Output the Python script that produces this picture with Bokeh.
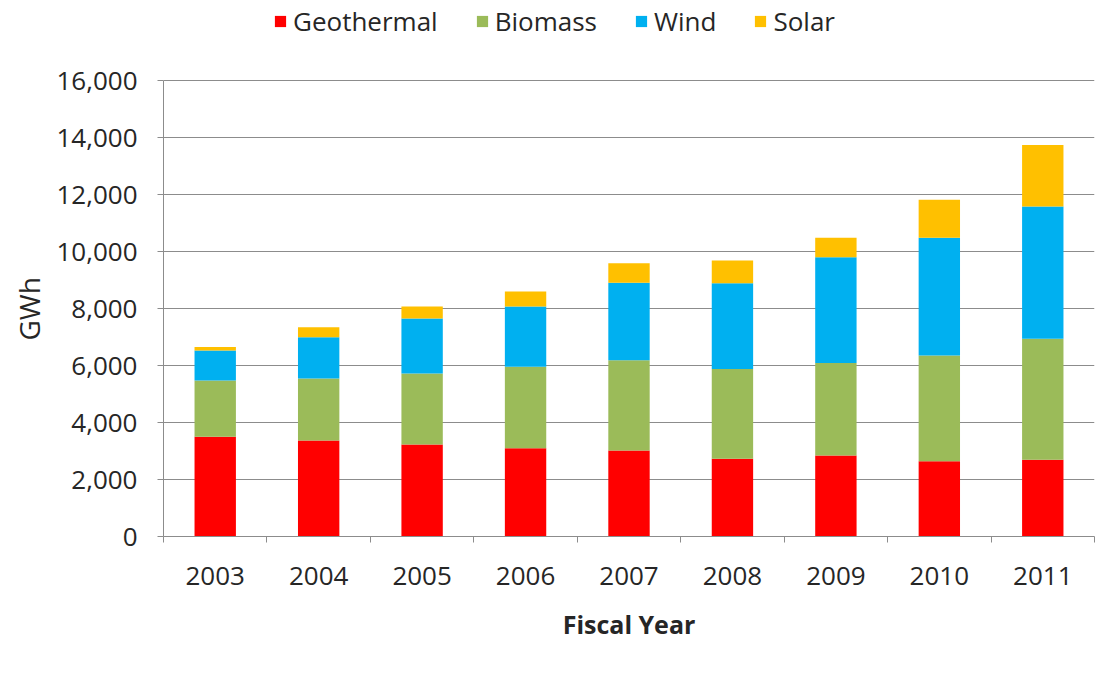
from bokeh.plotting import figure
from bokeh.models import (Range1d, FixedTicker, NumeralTickFormatter, Legend,
                          ColumnDataSource, Title)
from bokeh.embed import file_html
from bokeh.resources import INLINE

# Renewable electricity generation by source (GWh), fiscal years 2003-2011
years = [2003, 2004, 2005, 2006, 2007, 2008, 2009, 2010, 2011]
geothermal = [3500, 3370, 3230, 3100, 3020, 2730, 2840, 2640, 2690]
biomass = [1970, 2170, 2490, 2860, 3160, 3150, 3250, 3710, 4250]
wind = [1060, 1450, 1930, 2110, 2720, 3010, 3710, 4130, 4640]
solar = [120, 350, 420, 530, 690, 790, 680, 1340, 2160]

sources = ["Geothermal", "Biomass", "Wind", "Solar"]
colors = ["#FF0000", "#9BBB59", "#00B0F0", "#FFC000"]
y_ticks = [0, 2000, 4000, 6000, 8000, 10000, 12000, 14000, 16000]

src = ColumnDataSource(dict(year=years, Geothermal=geothermal, Biomass=biomass,
                            Wind=wind, Solar=solar))

FONT = "Open Sans"
TEXT = "#262626"
GRID = "#8C8C8C"

# The frame runs to the top of the canvas so the legend row fits inside it;
# the axis line and grid stop at 16,000.
FRAME_H = 536
AXIS_PX = 456
y_top = y_ticks[-1] * FRAME_H / AXIS_PX

p = figure(width=1096, height=673, output_backend="svg", toolbar_location=None,
           x_range=Range1d(years[0] - 0.5, years[-1] + 0.5),
           y_range=Range1d(0, y_top))
p.min_border_left = 163
p.min_border_right = 2
p.min_border_top = 0
p.min_border_bottom = 673 - FRAME_H
p.outline_line_color = None
p.background_fill_color = "white"
p.border_fill_color = "white"

renderers = p.vbar_stack(sources, x="year", width=0.4, source=src,
                         color=colors, line_color=None)

# x axis: year labels at bar centres, tick marks on the category boundaries
xa = p.xaxis[0]
xa.ticker = FixedTicker(ticks=years,
                        minor_ticks=[y - 0.5 for y in years] + [years[-1] + 0.5])
xa.formatter = NumeralTickFormatter(format="0")
xa.major_tick_line_color = None
xa.minor_tick_in = 0
xa.minor_tick_out = 6
xa.minor_tick_line_color = GRID
xa.axis_line_color = GRID
xa.major_label_text_font = FONT
xa.major_label_text_font_size = "26px"
xa.major_label_text_color = TEXT
xa.major_label_standoff = 24
xa.axis_label = "Fiscal Year"
xa.axis_label_text_font = FONT
xa.axis_label_text_font_size = "25px"
xa.axis_label_text_font_style = "bold"
xa.axis_label_text_color = TEXT
xa.axis_label_standoff = 19

ya = p.yaxis[0]
ya.ticker = FixedTicker(ticks=y_ticks)
ya.bounds = (y_ticks[0], y_ticks[-1])
ya.formatter = NumeralTickFormatter(format="0,0")
ya.major_tick_in = 0
ya.major_tick_out = 6
ya.major_tick_line_color = GRID
ya.minor_tick_line_color = None
ya.axis_line_color = GRID
ya.major_label_text_font = FONT
ya.major_label_text_font_size = "26px"
ya.major_label_text_color = TEXT
ya.major_label_standoff = 20

# y-axis title, centred on the 0-16,000 span of the axis
ytitle = Title(text="GWh", align="left", offset=196,
               text_font=FONT, text_font_size="28px",
               text_font_style="normal", text_color=TEXT, standoff=12)
p.add_layout(ytitle, "left")

p.xgrid.grid_line_color = None
p.ygrid.grid_line_color = GRID
p.ygrid.grid_line_width = 1

# legend row above the plotted bars
legend = Legend(items=[(name, [r]) for name, r in zip(sources, renderers)],
                orientation="horizontal", location=(110, 497))
legend.label_text_font = FONT
legend.label_text_font_size = "26px"
legend.label_text_color = TEXT
legend.glyph_width = 14
legend.glyph_height = 14
legend.spacing = 37
legend.label_standoff = 6
legend.padding = 4
legend.margin = 0
legend.border_line_color = None
legend.background_fill_alpha = 0
p.add_layout(legend, "center")

open("out.html", "w").write(file_html(p, INLINE))
